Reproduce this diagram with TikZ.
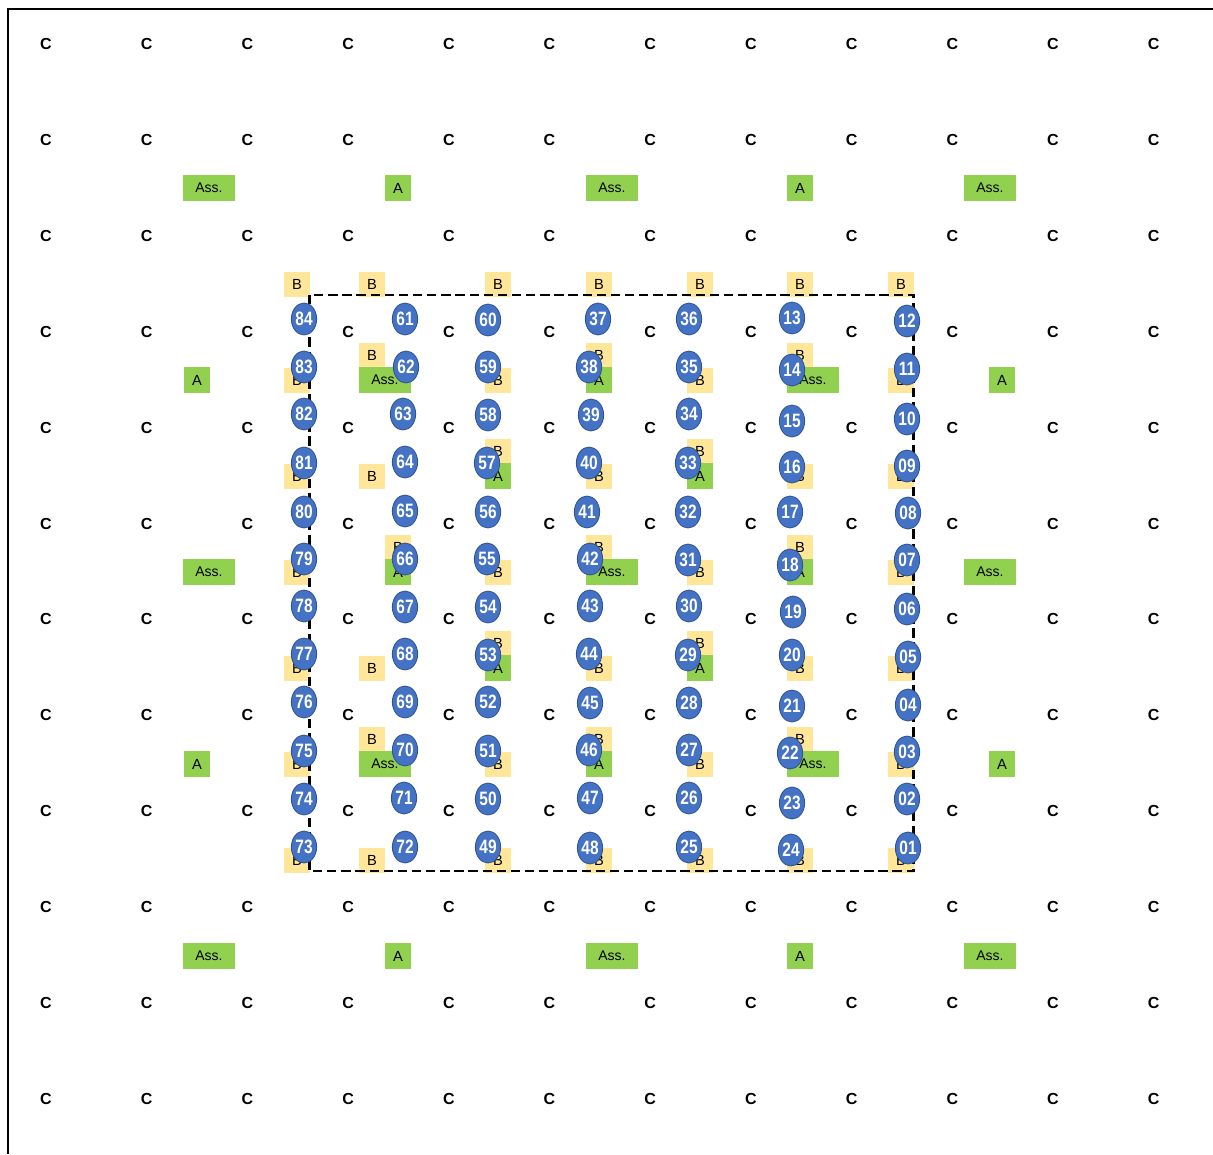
\documentclass[tikz,border=0pt]{standalone}
\usepackage{fontspec}
\setmainfont{Liberation Sans}
\newfontfamily\numfont[FakeStretch=0.8]{Liberation Sans Bold}
\usetikzlibrary{shapes.geometric}
\definecolor{byellow}{HTML}{FFE699}
\definecolor{agreen}{HTML}{92D050}
\definecolor{nblue}{HTML}{4472C4}
\definecolor{nbluedark}{HTML}{2F528F}
\tikzset{
  ctext/.style={inner sep=0pt, font=\bfseries\fontsize{12}{13}\selectfont},
  bbox/.style={fill=byellow, minimum width=19.5pt, minimum height=18.75pt, inner sep=0pt, font=\fontsize{11}{12}\selectfont},
  abox/.style={fill=agreen, minimum width=19.5pt, minimum height=19.5pt, inner sep=0pt, font=\fontsize{11}{12}\selectfont},
  assbox/.style={fill=agreen, minimum width=39pt, minimum height=19.5pt, inner sep=0pt, font=\fontsize{10.5}{12}\selectfont},
  num/.style={ellipse, fill=nblue, draw=nbluedark, line width=0.6pt, minimum width=19pt, minimum height=24pt, inner sep=0pt, text=white, font=\numfont\fontsize{14.5}{15}\selectfont},
  dashsq/.style={line width=2pt, dash pattern=on 7pt off 3.6pt},
  frame/.style={line width=0.9pt}
}
\begin{document}
\begin{tikzpicture}[x=0.75pt, y=-0.75pt]
\useasboundingbox (0,0) rectangle (1213,1154);
% frame
\coordinate (tl) at (8,9);
\coordinate (tr) at (1213,9);
\coordinate (bl) at (8,1154);
\draw[frame] (tr) -- (tl) -- (bl);
% C grid
\foreach \i in {0,...,11} {
  \foreach \j in {0,...,11} {
    \node[ctext] (c-\i-\j) at ({46+100.7*\i},{44+95.9*\j}) {C};
  }
}
% yellow B boxes
\foreach \x/\y [count=\k] in {
  297/284, 372/284, 498/284, 599/284, 700/284, 800/284, 901/284,
  372/355, 599/355, 800/355,
  297/380, 498/380, 700/380, 901/380,
  498/451, 700/451,
  297/476, 372/476, 599/476, 800/476, 901/476,
  398/547, 599/547, 800/547,
  297/572, 498/572, 700/572, 901/572,
  498/643, 700/643,
  297/668, 372/668, 599/668, 800/668, 901/668,
  372/739, 599/739, 800/739,
  297/764, 498/764, 700/764, 901/764,
  297/860, 372/860, 498/860, 599/860, 700/860, 800/860, 901/860}
  \node[bbox] (b\k) at (\x,\y) {B};
% green A boxes
\foreach \x/\y [count=\k] in {
  398/188, 800/188,
  197/380, 599/380, 1002/380,
  498/476, 700/476,
  398/572, 800/572,
  498/668, 700/668,
  197/764, 599/764, 1002/764,
  398/956, 800/956}
  \node[abox] (a\k) at (\x,\y) {A};
% green Ass. boxes
\foreach \x/\y [count=\k] in {
  209/188, 612/188, 990/188,
  385/380, 813/380,
  209/572, 612/572, 990/572,
  385/764, 813/764,
  209/956, 612/956, 990/956}
  \node[assbox] (s\k) at (\x,\y) {Ass.};
% dashed square
\coordinate (sq1) at (309.5,295);
\coordinate (sq2) at (913.5,871);
\draw[dashsq] (sq1) rectangle (sq2);
% numbered ellipses
\foreach \n/\x/\y in {
  84/304/319, 83/304/367, 82/304/414, 81/304/463, 80/304/512, 79/304/559,
  78/304/606, 77/304/654, 76/304/702, 75/304/751, 74/304/799, 73/304/847,
  61/405/319, 62/406/367, 63/403/414, 64/405/462, 65/405/511, 66/405/559,
  67/405/607, 68/405/654, 69/405/702, 70/405/750, 71/404/798, 72/405/847,
  60/488/320, 59/488/367, 58/488/415, 57/487/463, 56/488/512, 55/487/559,
  54/488/607, 53/488/655, 52/488/702, 51/488/751, 50/488/799, 49/488/847,
  37/598/319, 38/589/367, 39/591/415, 40/589/463, 41/587/512, 42/590/559,
  43/590/606, 44/589/654, 45/590/703, 46/589/750, 47/590/798, 48/590/848,
  36/689/319, 35/689/367, 34/689/414, 33/688/463, 32/688/512, 31/688/560,
  30/689/606, 29/688/655, 28/689/703, 27/689/750, 26/689/798, 25/689/847,
  13/792/318, 14/792/370, 15/792/421, 16/792/467, 17/790/512, 18/790/565,
  19/793/612, 20/792/655, 21/792/706, 22/790/753, 23/792/803, 24/791/850,
  12/907/321, 11/907/369, 10/907/419, 09/907/466, 08/908/513, 07/907/560,
  06/907/609, 05/908/657, 04/908/705, 03/907/752, 02/907/799, 01/908/848}
  \node[num] (n\n) at (\x,\y) {\n};
\end{tikzpicture}
\end{document}
